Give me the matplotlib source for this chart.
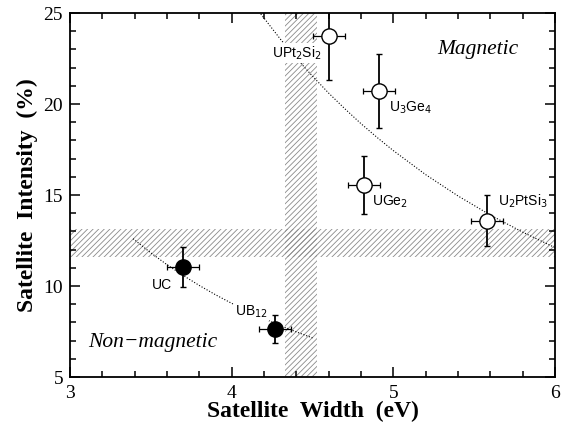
import matplotlib
matplotlib.use("Agg")
import matplotlib.pyplot as plt
from matplotlib.ticker import MultipleLocator

# Satellite width / intensity for each uranium compound
compounds = ['UPt$_2$Si$_2$', 'U$_3$Ge$_4$', 'UGe$_2$', 'U$_2$PtSi$_3$', 'UC', 'UB$_{12}$']
width = [4.60, 4.91, 4.82, 5.58, 3.70, 4.27]
intensity = [23.74, 20.71, 15.55, 13.59, 11.04, 7.64]
width_err = [0.10, 0.10, 0.10, 0.10, 0.10, 0.10]
intensity_err = [2.4, 2.05, 1.6, 1.4, 1.1, 0.75]
magnetic = [True, True, True, True, False, False]

# Label anchor points (data coords) and alignment
label_x = [4.404, 4.975, 4.87, 5.648, 3.63, 4.02]
label_y = [22.80, 19.78, 14.62, 14.67, 10.05, 8.57]
label_ha = ['center', 'left', 'left', 'left', 'right', 'left']

# Guide curves through the magnetic and non-magnetic groups
mag_curve_x = [4.18, 4.3, 4.4, 4.5, 4.6, 4.7, 4.8, 4.9, 5.0, 5.2, 5.4, 5.6, 5.8, 6.0]
mag_curve_y = [24.95, 23.58, 22.52, 21.53, 20.60, 19.74, 18.92, 18.16, 17.44,
               16.12, 14.95, 13.90, 12.96, 12.11]
nonmag_curve_x = [3.39, 3.5, 3.6, 3.7, 3.8, 3.9, 4.0, 4.1, 4.2, 4.3, 4.4, 4.5]
nonmag_curve_y = [12.60, 11.82, 11.17, 10.58, 10.03, 9.52, 9.05, 8.61, 8.21,
                  7.83, 7.48, 7.15]

# Boundary bands
width_band = [4.33, 4.53]
intensity_band = [11.6, 13.15]

plt.rcParams['hatch.linewidth'] = 0.6

fig = plt.figure(figsize=(5.61, 4.33), dpi=100)
ax = fig.add_axes([0.1248, 0.1293, 0.8645, 0.8406])

ax.axvspan(width_band[0], width_band[1], facecolor='none', edgecolor='#8a8a8a',
           hatch='//////', linewidth=0, zorder=1)
ax.axhspan(intensity_band[0], intensity_band[1], facecolor='none', edgecolor='#8a8a8a',
           hatch='//////', linewidth=0, zorder=1)

ax.plot(mag_curve_x, mag_curve_y, color='black', lw=0.8, ls=(0, (1, 1.6)), zorder=2)
ax.plot(nonmag_curve_x, nonmag_curve_y, color='black', lw=0.8, ls=(0, (1, 1.6)), zorder=2)

for x, y, xe, ye, m in zip(width, intensity, width_err, intensity_err, magnetic):
    ax.errorbar(x, y, xerr=xe, fmt='none', ecolor='black', elinewidth=0.9,
                capsize=2.2, capthick=0.9, zorder=3)
    ax.errorbar(x, y, yerr=ye, fmt='none', ecolor='black', elinewidth=1.3,
                capsize=2.2, capthick=1.0, zorder=3)
    ax.plot(x, y, 'o', ms=11, mfc='white' if m else 'black', mec='black',
            mew=1.0, zorder=4)

for name, lx, ly, ha in zip(compounds, label_x, label_y, label_ha):
    ax.text(lx, ly, name, ha=ha, va='center', fontsize=10,
            family='Liberation Sans', zorder=5,
            bbox=dict(fc='white', ec='none', pad=0.8))

ax.text(5.52, 22.97, 'Magnetic', ha='center', va='center', fontsize=15.5,
        style='italic', family='Liberation Serif')
ax.text(3.11, 6.87, 'Non\u2212magnetic', ha='left', va='center', fontsize=15.5,
        style='italic', family='Liberation Serif')

ax.set_xlim(3, 6)
ax.set_ylim(5, 25)
ax.xaxis.set_major_locator(MultipleLocator(1))
ax.xaxis.set_minor_locator(MultipleLocator(0.2))
ax.yaxis.set_major_locator(MultipleLocator(5))
ax.yaxis.set_minor_locator(MultipleLocator(1))
ax.tick_params(which='both', direction='in', top=True, right=True, width=1.1)
ax.tick_params(which='major', length=7)
ax.tick_params(which='minor', length=4)
ax.tick_params(axis='x', which='major', pad=6)
ax.tick_params(axis='y', which='major', pad=5)
for lbl in ax.get_xticklabels() + ax.get_yticklabels():
    lbl.set_family('Liberation Serif')
    lbl.set_fontsize(14)
for s in ax.spines.values():
    s.set_linewidth(1.3)

ax.set_xlabel('Satellite  Width  (eV)', fontsize=17, fontweight='bold',
              family='Liberation Serif', labelpad=-1)
ax.set_ylabel('Satellite  Intensity  (%)', fontsize=17, fontweight='bold',
              family='Liberation Serif', labelpad=4)

fig.savefig('out.png', dpi=100)
